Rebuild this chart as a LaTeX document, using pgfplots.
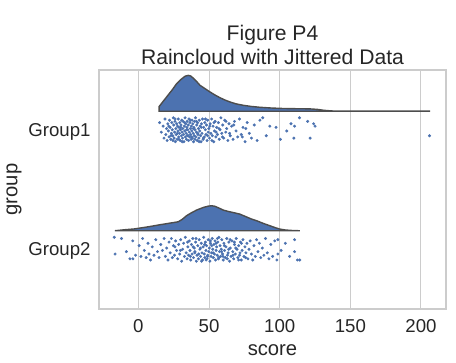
\documentclass[border=0pt]{standalone}
\usepackage{fontspec}
\setmainfont{Liberation Sans}
\usepackage{pgfplots}
\pgfplotsset{compat=1.18}
\definecolor{deepblue}{HTML}{4C72B0}
\definecolor{outl}{HTML}{4D4D4D}
\definecolor{gridc}{HTML}{CCCCCC}
\definecolor{txt}{HTML}{262626}
\begin{document}
\begin{tikzpicture}
\begin{axis}[
  at={(0,0)}, anchor=south west,
  scale only axis, width=347bp, height=239bp,
  xmin=-27.9, xmax=217.7, ymin=-0.5, ymax=1.5, y dir=reverse,
  xtick={0,50,100,150,200}, ytick={0,1}, yticklabels={Group1,Group2},
  xmajorgrids, ymajorgrids=false,
  major grid style={gridc, line width=1bp},
  axis line style={gridc, line width=1.25bp},
  major tick length=0pt,
  /pgf/number format/assume math mode=true,
  tick label style={font=\fontsize{18.7}{22}\selectfont, text=txt},
  xticklabel style={anchor=base, yshift=-23bp},
  yticklabel style={anchor=base east, yshift=-6.6bp, xshift=-5bp},
  xlabel={score}, ylabel={group},
  label style={font=\fontsize{20.3}{24}\selectfont, text=txt},
  xlabel style={at={(axis description cs:0.5,0)}, anchor=base, yshift=-46bp},
  ylabel style={at={(axis description cs:-0.245,0.5)}, anchor=center},
  title={Figure P4\\Raincloud with Jittered Data},
  title style={font=\fontsize{21.2}{23.5}\selectfont, align=center, text=txt, anchor=south, yshift=-4bp},
]
% Group1 half violin
\addplot[fill=deepblue, draw=outl, line width=1.4bp] coordinates {
(14.7,-0.155) (14.7,-0.195) (17,-0.230) (20,-0.275) (24,-0.335) (27,-0.385) (30,-0.420) (33,-0.448) (35.3,-0.455) (37,-0.450) (39,-0.430) (41.5,-0.400) (43.5,-0.373) (47,-0.345) (50.6,-0.317) (54,-0.292) (57.6,-0.269) (61,-0.250) (64.7,-0.233) (69,-0.217) (74,-0.205) (80,-0.195) (86,-0.188) (94,-0.182) (102,-0.178) (112,-0.176) (121,-0.175) (127,-0.170) (131,-0.163) (136,-0.158) (140,-0.156) (206,-0.156) (206,-0.155)
} -- cycle;
% Group2 half violin
\addplot[fill=deepblue, draw=outl, line width=1.4bp] coordinates {
(-16.6,0.845) (-10,0.837) (-3,0.830) (1,0.823) (8,0.810) (15.2,0.795) (22,0.782) (28.2,0.770) (31,0.750) (34.1,0.719) (37.5,0.695) (41.2,0.672) (46,0.650) (49.5,0.639) (51.8,0.636) (54,0.640) (57,0.655) (60,0.672) (64,0.685) (68,0.695) (71.8,0.706) (76,0.727) (80,0.747) (83.6,0.761) (88,0.782) (93,0.803) (97,0.820) (100,0.831) (104,0.839) (110,0.844) (114.2,0.845)
} -- cycle;
% Group1 points
\addplot[only marks, mark=*, mark size=1.3bp, color=deepblue, mark options={draw=none, fill=deepblue}] table {
x y
15.0 -0.06
16.2 0.02
17.5 -0.03
18.1 0.07
18.8 -0.09
19.4 0.04
19.9 -0.01
20.3 0.09
20.8 -0.05
21.2 0.01
21.7 0.06
22.0 -0.08
22.4 -0.02
22.9 0.08
23.3 0.03
23.6 -0.06
24.0 0.00
24.3 0.05
24.7 -0.10
25.0 -0.04
25.3 0.07
25.6 0.02
25.9 -0.07
26.2 0.10
26.5 -0.01
26.8 0.04
27.1 -0.05
27.4 0.08
27.7 -0.03
28.0 0.01
28.2 -0.09
28.5 0.06
28.8 -0.02
29.0 0.03
29.3 -0.06
29.6 0.09
29.8 0.00
30.1 -0.04
30.4 0.05
30.6 -0.08
30.9 0.02
31.2 0.07
31.4 -0.01
31.7 -0.07
32.0 0.04
32.2 0.10
32.5 -0.03
32.8 0.01
33.0 -0.10
33.3 0.06
33.5 -0.05
33.8 0.03
34.0 0.08
34.3 -0.02
34.5 -0.07
34.8 0.05
35.0 0.00
35.3 -0.04
35.5 0.09
35.8 -0.09
36.0 0.02
36.3 0.06
36.5 -0.06
36.8 -0.01
37.0 0.04
37.3 0.08
37.5 -0.03
37.8 0.01
38.0 -0.08
38.3 0.07
38.5 -0.05
38.8 0.03
39.0 0.10
39.3 -0.02
39.5 0.05
39.8 -0.07
40.1 0.00
40.4 -0.10
40.7 0.06
41.0 0.02
41.3 -0.04
41.6 0.09
41.9 -0.06
42.2 0.04
42.5 -0.01
42.8 0.07
43.1 -0.08
43.4 0.01
43.7 -0.03
44.0 0.05
44.3 0.10
44.6 -0.05
45.0 0.03
45.4 -0.09
45.8 0.08
46.2 -0.02
46.6 0.06
47.0 -0.06
47.4 0.00
47.8 0.04
48.2 -0.04
48.6 0.09
49.0 -0.08
49.4 0.02
49.8 -0.01
50.3 0.07
50.8 -0.05
51.3 0.03
51.8 -0.09
52.3 0.05
52.8 -0.03
53.3 0.10
53.8 0.01
54.3 -0.07
54.8 0.06
55.4 -0.02
56.0 0.04
56.6 -0.06
57.2 0.08
57.8 0.00
58.4 -0.10
59.0 0.03
59.7 -0.04
60.4 0.07
61.1 -0.08
61.8 0.02
62.5 -0.01
63.3 0.09
64.1 -0.05
65.0 0.05
66.0 -0.03
67.0 0.08
68.0 -0.07
69.1 0.01
70.3 0.06
71.5 -0.09
72.8 0.04
74.0 -0.02
75.5 0.10
77.0 -0.06
78.5 0.03
80.0 0.07
82.0 -0.04
84.0 0.09
86.0 -0.08
88.0 -0.10
90.5 0.05
93.0 -0.03
97.4 -0.02
100.5 0.08
105.0 0.01
108.0 -0.05
110.0 0.07
110.5 -0.03
114.0 -0.10
119.8 -0.07
121.5 0.07
124.0 -0.05
125.0 -0.03
206.0 0.05
21.5 -0.03
23.0 0.05
24.5 0.09
26.0 -0.09
27.5 0.03
28.7 0.08
30.0 -0.02
31.0 0.10
32.7 -0.06
34.2 0.00
35.2 0.05
36.7 -0.08
37.7 0.06
38.9 -0.01
40.0 0.08
41.1 -0.07
42.0 0.03
43.0 0.10
44.5 -0.02
46.0 0.07
47.5 -0.09
49.0 0.05
50.5 -0.03
52.0 0.09
53.5 -0.06
55.0 0.02
57.0 -0.01
59.5 0.06
62.0 -0.07
64.5 0.03
67.5 -0.04
73.5 0.06
76.0 -0.01
};
% Group2 points
\addplot[only marks, mark=*, mark size=1.3bp, color=deepblue, mark options={draw=none, fill=deepblue}] table {
x y
-17.1 0.90
-16.5 1.04
-12.0 0.91
-8.5 1.02
-6.0 1.08
-4.0 0.93
-3.9 1.08
-2.0 1.05
0.5 0.97
1.8 1.06
3.0 0.91
4.2 1.01
5.5 1.07
6.8 0.95
7.5 1.04
8.6 1.09
9.8 0.98
11.0 1.05
12.3 0.92
13.5 1.02
14.6 1.07
15.8 0.96
17.0 1.01
18.2 0.91
19.1 1.06
20.0 0.99
20.9 1.09
21.7 0.94
22.5 1.03
23.3 0.91
24.0 1.07
24.8 0.97
25.5 1.05
26.3 0.93
27.0 1.01
27.8 1.08
28.5 0.96
29.2 1.04
29.9 0.92
30.6 1.10
31.3 1.00
32.0 0.95
32.6 1.06
33.2 0.90
33.8 1.03
34.4 1.08
35.0 0.98
35.5 1.05
36.0 0.93
36.5 1.01
37.0 1.09
37.5 0.96
38.0 1.04
38.5 0.91
39.0 1.07
39.5 0.99
40.0 1.02
40.5 0.94
41.0 1.10
41.5 1.05
42.0 0.97
42.5 1.08
43.0 0.92
43.5 1.00
44.0 1.06
44.5 0.95
45.0 1.03
45.4 1.09
45.8 0.98
46.2 0.90
46.6 1.04
47.0 1.07
47.4 0.94
47.8 1.01
48.2 0.97
48.6 1.08
49.0 1.05
49.4 0.92
49.8 1.02
50.2 0.99
50.6 1.10
51.0 0.95
51.4 1.06
51.8 1.03
52.2 0.91
52.6 1.00
53.0 1.07
53.4 0.96
53.8 1.04
54.2 0.93
54.6 1.09
55.0 1.01
55.4 0.98
55.8 1.05
56.2 0.94
56.6 1.08
57.0 0.90
57.4 1.02
57.8 0.97
58.2 1.06
58.6 1.00
59.0 0.92
59.5 1.04
60.0 1.09
60.5 0.95
61.0 1.01
61.5 1.07
62.0 0.98
62.5 0.91
63.0 1.05
63.5 1.03
64.0 0.94
64.5 1.10
65.0 0.99
65.6 1.06
66.2 0.93
66.8 1.02
67.4 1.08
68.0 0.96
68.6 1.04
69.2 0.91
69.8 1.00
70.4 1.07
71.0 0.97
71.6 1.05
72.2 0.94
72.8 1.09
73.4 1.01
74.0 0.92
74.7 1.06
75.4 0.98
76.1 1.03
76.8 0.95
77.5 1.08
78.3 1.00
79.1 0.93
80.0 1.04
80.9 1.09
81.8 0.97
82.7 1.06
83.6 0.92
84.6 1.02
85.6 0.95
86.6 1.07
87.7 0.99
88.8 1.05
90.0 0.91
91.2 1.03
92.4 1.08
93.7 0.96
95.0 1.06
96.5 0.93
98.7 0.92
98.7 1.04
98.0 1.09
101.0 1.01
104.0 0.95
107.0 1.06
110.5 0.92
110.5 1.02
112.5 1.09
114.2 1.09
34.8 0.94
36.8 1.06
38.7 0.98
40.8 0.91
42.7 1.04
44.7 1.10
46.9 0.96
48.9 1.06
50.9 0.93
52.9 1.03
54.9 0.95
56.9 1.07
58.9 1.02
60.9 0.97
62.9 1.08
64.9 0.92
66.9 1.05
68.9 0.99
70.9 1.09
72.9 0.95
43.9 0.99
47.9 1.09
51.9 0.97
55.9 0.91
59.9 1.06
63.9 1.00
67.9 0.94
71.9 1.03
75.9 1.07
39.9 1.03
25.9 0.98
29.7 1.01
};
\end{axis}
\pgfresetboundingbox
\useasboundingbox (-99bp,-54bp) rectangle (357bp,309bp);
\end{tikzpicture}
\end{document}
